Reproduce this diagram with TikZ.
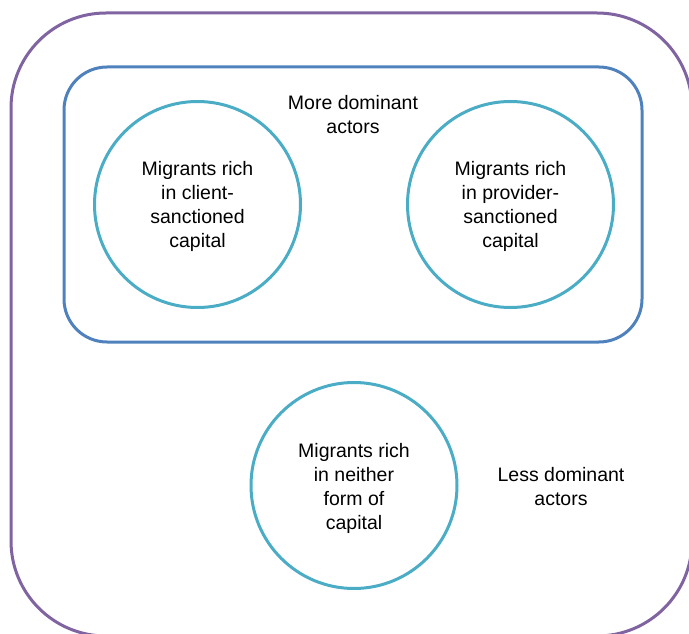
\documentclass[tikz,border=0pt]{standalone}
\usepackage{fontspec}
\setmainfont{Liberation Sans}
\definecolor{outerpurple}{HTML}{8064A2}
\definecolor{innerblue}{HTML}{4F81BD}
\definecolor{circteal}{HTML}{4BACC6}
\begin{document}
\begin{tikzpicture}[x=1pt,y=-1pt,
  lbl/.style={align=center,font=\fontsize{19.5}{24}\selectfont,text=black,inner sep=0pt},
  circ/.style={circle,draw=circteal,line width=3pt,minimum size=206pt,inner sep=0pt}]
\useasboundingbox (0,0) rectangle (689,634);
\clip (0,0) rectangle (689,634);
\draw[outerpurple,line width=3pt,rounded corners=95pt] (11,13) rectangle (692,636);
\draw[innerblue,line width=3pt,rounded corners=43pt] (64,67) rectangle (642,342);
\node[circ] (c1) at (197.5,204.5) {};
\node[circ] (c2) at (510.5,204.5) {};
\node[circ] (c3) at (354,485.5) {};
\node[lbl] (t1) at (197.5,206) {Migrants rich\\in client-\\sanctioned\\capital};
\node[lbl] (t2) at (510.5,206) {Migrants rich\\in provider-\\sanctioned\\capital};
\node[lbl] (t3) at (354,488) {Migrants rich\\in neither\\form of\\capital};
\node[lbl] (more) at (353,115) {More dominant\\actors};
\node[lbl] (less) at (561,487) {Less dominant\\actors};
\end{tikzpicture}
\end{document}
